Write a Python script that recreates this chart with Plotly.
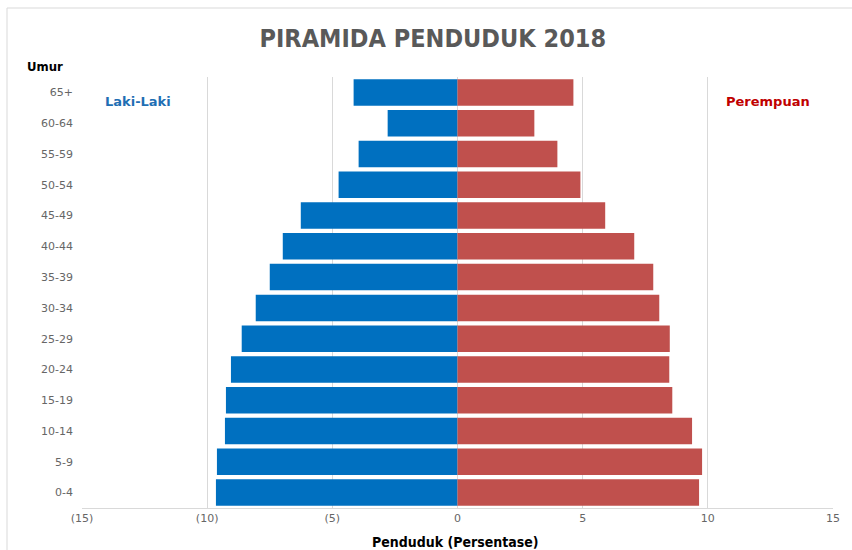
import plotly.graph_objects as go

age_groups = ["0-4", "5-9", "10-14", "15-19", "20-24", "25-29", "30-34",
              "35-39", "40-44", "45-49", "50-54", "55-59", "60-64", "65+"]
male = [9.65, 9.61, 9.29, 9.25, 9.05, 8.62, 8.06, 7.50, 6.98, 6.26, 4.75, 3.95, 2.79, 4.15]
female = [9.65, 9.77, 9.37, 8.58, 8.46, 8.48, 8.06, 7.82, 7.06, 5.90, 4.91, 3.99, 3.07, 4.63]
tick_vals = [-15, -10, -5, 0, 5, 10, 15]
tick_text = ["(15)", "(10)", "(5)", "0", "5", "10", "15"]

fig = go.Figure()
fig.add_trace(go.Bar(y=age_groups, x=[-v for v in male], orientation="h",
                     name="Laki-Laki", marker=dict(color="#0070C0", line=dict(width=0))))
fig.add_trace(go.Bar(y=age_groups, x=female, orientation="h",
                     name="Perempuan", marker=dict(color="#C0504D", line=dict(width=0))))

tick_font = dict(family="DejaVu Sans", size=11, color="#666666")

fig.update_layout(
    width=852, height=550,
    margin=dict(l=82, r=19, t=77, b=42),
    paper_bgcolor="white", plot_bgcolor="white",
    barmode="relative", bargap=0.14, showlegend=False,
    title=dict(text="<b>PIRAMIDA PENDUDUK 2018</b>", x=0.508, xanchor="center",
               y=0.931, yanchor="middle",
               font=dict(family="Liberation Sans Narrow, DejaVu Sans Condensed, Arial Narrow",
                         size=25, color="#595959")),
    xaxis=dict(range=[-15, 15], tickvals=tick_vals, ticktext=tick_text,
               showgrid=True, gridcolor="#D9D9D9", gridwidth=1,
               zeroline=False, showline=True, linecolor="#D9D9D9",
               tickfont=tick_font, ticks="", fixedrange=True),
    yaxis=dict(categoryorder="array", categoryarray=age_groups,
               showgrid=False, zeroline=False, showline=False,
               tickfont=tick_font, ticks="", ticklabelstandoff=8),
    shapes=[
        dict(type="rect", xref="paper", yref="paper",
             x0=-75/751, x1=1.03, y0=-50/431, y1=1 + 69/431,
             line=dict(color="#D9D9D9", width=1), fillcolor="rgba(0,0,0,0)", layer="below"),
    ],
    annotations=[
        dict(text="<b>Laki-Laki</b>", xref="paper", yref="paper", x=0.0746, y=0.942,
             xanchor="center", yanchor="middle", showarrow=False,
             font=dict(family="DejaVu Sans", size=13, color="#1F6FB4")),
        dict(text="<b>Perempuan</b>", xref="paper", yref="paper", x=0.913, y=0.942,
             xanchor="center", yanchor="middle", showarrow=False,
             font=dict(family="DejaVu Sans", size=13, color="#C00000")),
        dict(text="<b>Umur</b>", xref="paper", yref="paper", x=-37/751, y=1 + 10/431,
             xanchor="center", yanchor="middle", showarrow=False,
             font=dict(family="Liberation Sans Narrow, DejaVu Sans Condensed", size=13, color="black")),
        dict(text="<b>Penduduk (Persentase)</b>", xref="paper", yref="paper",
             x=(455 - 82) / 751, y=-34 / 431, xanchor="center", yanchor="middle",
             showarrow=False,
             font=dict(family="Liberation Sans Narrow, DejaVu Sans Condensed", size=14, color="black")),
    ],
)

fig.write_html("out.html", config={"displayModeBar": False},
               post_script="document.body.style.margin='0';")
